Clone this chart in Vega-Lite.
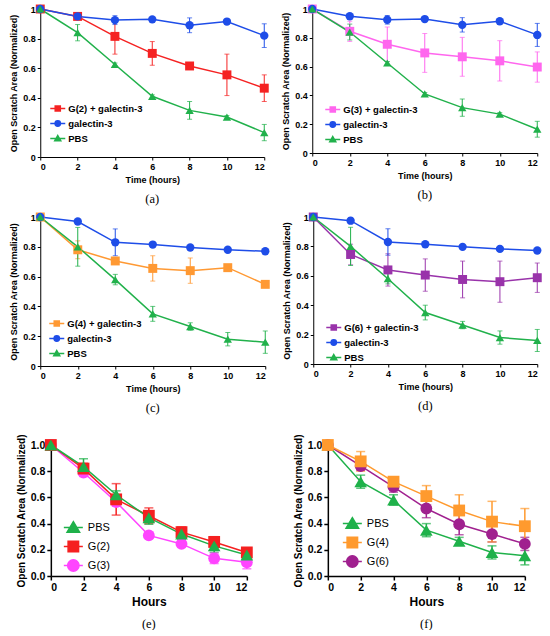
{
  "$schema": "https://vega.github.io/schema/vega-lite/v6.json",
  "padding": {"left": 9, "top": 4, "right": 0, "bottom": 0},
  "config": {
    "font": "Liberation Sans",
    "view": {"stroke": null},
    "axis": {
      "grid": false,
      "domainColor": "#000",
      "tickColor": "#000",
      "domainWidth": 1,
      "tickWidth": 1,
      "tickSize": 3,
      "labelPadding": 2,
      "labelFont": "Liberation Sans",
      "labelFontWeight": "bold",
      "labelFontSize": 9,
      "labelColor": "#000",
      "titleFont": "Liberation Sans",
      "titleFontWeight": "bold",
      "titleFontSize": 9,
      "titleColor": "#000"
    },
    "legend": {"labelFont": "Liberation Sans", "labelColor": "#000", "padding": 0, "rowPadding": 0, "title": null, "symbolStrokeWidth": 1.5, "symbolOpacity": 1},
    "title": {"font": "Liberation Serif", "fontSize": 12.5, "fontWeight": "normal", "color": "#000", "orient": "bottom", "offset": 9}
  },
  "resolve": {"scale": {"color": "independent", "fill": "independent", "stroke": "independent", "shape": "independent"}, "legend": {"fill": "independent", "stroke": "independent", "shape": "independent"}},
  "spacing": 18,
  "center": true,
  "vconcat": [
    {
      "spacing": 6,
      "resolve": {"scale": {"color": "independent", "fill": "independent", "stroke": "independent", "shape": "independent"}, "legend": {"fill": "independent", "stroke": "independent", "shape": "independent"}},
      "vconcat": [
        {
          "spacing": 12,
          "resolve": {"scale": {"color": "independent", "fill": "independent", "stroke": "independent", "shape": "independent"}, "legend": {"fill": "independent", "stroke": "independent", "shape": "independent"}},
          "hconcat": [
            {
              "width": 224,
              "height": 148,
              "title": "(a)",
              "data": {"values": [
                {"s": "G(2) + galectin-3", "t": 0, "v": 1, "e": 0},
                {"s": "G(2) + galectin-3", "t": 2, "v": 0.95, "e": 0},
                {"s": "G(2) + galectin-3", "t": 4, "v": 0.815, "e": 0.12},
                {"s": "G(2) + galectin-3", "t": 6, "v": 0.7, "e": 0.08},
                {"s": "G(2) + galectin-3", "t": 8, "v": 0.615, "e": 0.015},
                {"s": "G(2) + galectin-3", "t": 10, "v": 0.555, "e": 0.14},
                {"s": "G(2) + galectin-3", "t": 12, "v": 0.465, "e": 0.09},
                {"s": "galectin-3", "t": 0, "v": 1, "e": 0},
                {"s": "galectin-3", "t": 2, "v": 0.95, "e": 0.01},
                {"s": "galectin-3", "t": 4, "v": 0.925, "e": 0.03},
                {"s": "galectin-3", "t": 6, "v": 0.93, "e": 0.01},
                {"s": "galectin-3", "t": 8, "v": 0.89, "e": 0.05},
                {"s": "galectin-3", "t": 10, "v": 0.915, "e": 0.01},
                {"s": "galectin-3", "t": 12, "v": 0.82, "e": 0.08},
                {"s": "PBS", "t": 0, "v": 1, "e": 0},
                {"s": "PBS", "t": 2, "v": 0.84, "e": 0.055},
                {"s": "PBS", "t": 4, "v": 0.625, "e": 0.01},
                {"s": "PBS", "t": 6, "v": 0.41, "e": 0.01},
                {"s": "PBS", "t": 8, "v": 0.315, "e": 0.06},
                {"s": "PBS", "t": 10, "v": 0.27, "e": 0.01},
                {"s": "PBS", "t": 12, "v": 0.165, "e": 0.055}
              ]},
              "encoding": {
                "x": {"field": "t", "type": "quantitative", "scale": {"domain": [0, 12], "nice": false}, "axis": {"values": [0, 2, 4, 6, 8, 10, 12], "title": "Time (hours)"}},
                "y": {"field": "v", "type": "quantitative", "scale": {"domain": [0, 1], "nice": false}, "axis": {"values": [0, 0.2, 0.4, 0.6, 0.8, 1], "format": "~g", "title": "Open Scratch Area (Normalized)"}},
                "color": {"field": "s", "type": "nominal", "scale": {"domain": ["G(2) + galectin-3", "galectin-3", "PBS"], "range": ["#f52222", "#1e4de8", "#21b14b"]}, "legend": null}
              },
              "layer": [
                {"mark": {"type": "point", "opacity": 0, "size": 10},
                  "encoding": {
                    "fill": {"field": "s", "type": "nominal", "scale": {"domain": ["G(2) + galectin-3", "galectin-3", "PBS"], "range": ["#f52222", "#1e4de8", "#21b14b"]},
                      "legend": {"orient": "none", "legendX": 9, "legendY": 91, "symbolSize": 225, "labelFontSize": 9.5, "labelFontWeight": "bold", "labelOffset": 2}},
                    "stroke": {"field": "s", "type": "nominal", "scale": {"domain": ["G(2) + galectin-3", "galectin-3", "PBS"], "range": ["#f52222", "#1e4de8", "#21b14b"]},
                      "legend": {"orient": "none", "legendX": 9, "legendY": 91, "symbolSize": 225, "labelFontSize": 9.5, "labelFontWeight": "bold", "labelOffset": 2}},
                    "shape": {"field": "s", "type": "nominal", "scale": {"domain": ["G(2) + galectin-3", "galectin-3", "PBS"], "range": ["M-1,0H1M-0.34,-0.34H0.34V0.34H-0.34Z", "M-1,0H1M-0.36,0A0.36,0.36,0,1,0,0.36,0A0.36,0.36,0,1,0,-0.36,0Z", "M-1,0H1M0,-0.4L0.4,0.3H-0.4Z"]},
                      "legend": {"orient": "none", "legendX": 9, "legendY": 91, "symbolSize": 225, "labelFontSize": 9.5, "labelFontWeight": "bold", "labelOffset": 2}}
                  }},
                {"mark": {"type": "errorbar", "ticks": {"size": 5}, "thickness": 1}, "encoding": {"yError": {"field": "e"}}},
                {"mark": {"type": "line", "strokeWidth": 1.5}},
                {"transform": [{"filter": "datum.s === 'G(2) + galectin-3'"}], "mark": {"type": "point", "shape": "square", "filled": true, "opacity": 1, "size": 80}},
                {"transform": [{"filter": "datum.s === 'galectin-3'"}], "mark": {"type": "point", "shape": "circle", "filled": true, "opacity": 1, "size": 70}},
                {"transform": [{"filter": "datum.s === 'PBS'"}], "mark": {"type": "point", "shape": "triangle-up", "filled": true, "opacity": 1, "size": 70}}
              ]
            },
            {
              "width": 225,
              "height": 144,
              "title": "(b)",
              "data": {"values": [
                {"s": "G(3) + galectin-3", "t": 0, "v": 1, "e": 0},
                {"s": "G(3) + galectin-3", "t": 2, "v": 0.845, "e": 0.07},
                {"s": "G(3) + galectin-3", "t": 4, "v": 0.755, "e": 0.12},
                {"s": "G(3) + galectin-3", "t": 6, "v": 0.695, "e": 0.135},
                {"s": "G(3) + galectin-3", "t": 8, "v": 0.668, "e": 0.135},
                {"s": "G(3) + galectin-3", "t": 10, "v": 0.64, "e": 0.14},
                {"s": "G(3) + galectin-3", "t": 12, "v": 0.597, "e": 0.105},
                {"s": "galectin-3", "t": 0, "v": 1, "e": 0},
                {"s": "galectin-3", "t": 2, "v": 0.95, "e": 0.01},
                {"s": "galectin-3", "t": 4, "v": 0.925, "e": 0.03},
                {"s": "galectin-3", "t": 6, "v": 0.93, "e": 0.01},
                {"s": "galectin-3", "t": 8, "v": 0.89, "e": 0.05},
                {"s": "galectin-3", "t": 10, "v": 0.915, "e": 0.01},
                {"s": "galectin-3", "t": 12, "v": 0.82, "e": 0.08},
                {"s": "PBS", "t": 0, "v": 1, "e": 0},
                {"s": "PBS", "t": 2, "v": 0.84, "e": 0.055},
                {"s": "PBS", "t": 4, "v": 0.625, "e": 0.01},
                {"s": "PBS", "t": 6, "v": 0.41, "e": 0.01},
                {"s": "PBS", "t": 8, "v": 0.315, "e": 0.06},
                {"s": "PBS", "t": 10, "v": 0.27, "e": 0.01},
                {"s": "PBS", "t": 12, "v": 0.165, "e": 0.055}
              ]},
              "encoding": {
                "x": {"field": "t", "type": "quantitative", "scale": {"domain": [0, 12], "nice": false}, "axis": {"values": [0, 2, 4, 6, 8, 10, 12], "title": "Time (hours)"}},
                "y": {"field": "v", "type": "quantitative", "scale": {"domain": [0, 1], "nice": false}, "axis": {"values": [0, 0.2, 0.4, 0.6, 0.8, 1], "format": "~g", "title": "Open Scratch Area (Normalized)"}},
                "color": {"field": "s", "type": "nominal", "scale": {"domain": ["G(3) + galectin-3", "galectin-3", "PBS"], "range": ["#ff66ee", "#1e4de8", "#21b14b"]}, "legend": null}
              },
              "layer": [
                {"mark": {"type": "point", "opacity": 0, "size": 10},
                  "encoding": {
                    "fill": {"field": "s", "type": "nominal", "scale": {"domain": ["G(3) + galectin-3", "galectin-3", "PBS"], "range": ["#ff66ee", "#1e4de8", "#21b14b"]},
                      "legend": {"orient": "none", "legendX": 12, "legendY": 92, "symbolSize": 225, "labelFontSize": 9.5, "labelFontWeight": "bold", "labelOffset": 2}},
                    "stroke": {"field": "s", "type": "nominal", "scale": {"domain": ["G(3) + galectin-3", "galectin-3", "PBS"], "range": ["#ff66ee", "#1e4de8", "#21b14b"]},
                      "legend": {"orient": "none", "legendX": 12, "legendY": 92, "symbolSize": 225, "labelFontSize": 9.5, "labelFontWeight": "bold", "labelOffset": 2}},
                    "shape": {"field": "s", "type": "nominal", "scale": {"domain": ["G(3) + galectin-3", "galectin-3", "PBS"], "range": ["M-1,0H1M-0.34,-0.34H0.34V0.34H-0.34Z", "M-1,0H1M-0.36,0A0.36,0.36,0,1,0,0.36,0A0.36,0.36,0,1,0,-0.36,0Z", "M-1,0H1M0,-0.4L0.4,0.3H-0.4Z"]},
                      "legend": {"orient": "none", "legendX": 12, "legendY": 92, "symbolSize": 225, "labelFontSize": 9.5, "labelFontWeight": "bold", "labelOffset": 2}}
                  }},
                {"mark": {"type": "errorbar", "ticks": {"size": 5}, "thickness": 1}, "encoding": {"yError": {"field": "e"}}},
                {"mark": {"type": "line", "strokeWidth": 1.5}},
                {"transform": [{"filter": "datum.s === 'G(3) + galectin-3'"}], "mark": {"type": "point", "shape": "square", "filled": true, "opacity": 1, "size": 80}},
                {"transform": [{"filter": "datum.s === 'galectin-3'"}], "mark": {"type": "point", "shape": "circle", "filled": true, "opacity": 1, "size": 70}},
                {"transform": [{"filter": "datum.s === 'PBS'"}], "mark": {"type": "point", "shape": "triangle-up", "filled": true, "opacity": 1, "size": 70}}
              ]
            }
          ]
        },
        {
          "spacing": 12,
          "resolve": {"scale": {"color": "independent", "fill": "independent", "stroke": "independent", "shape": "independent"}, "legend": {"fill": "independent", "stroke": "independent", "shape": "independent"}},
          "hconcat": [
            {
              "width": 225,
              "height": 149,
              "title": "(c)",
              "data": {"values": [
                {"s": "G(4) + galectin-3", "t": 0, "v": 1, "e": 0},
                {"s": "G(4) + galectin-3", "t": 2, "v": 0.78, "e": 0.06},
                {"s": "G(4) + galectin-3", "t": 4, "v": 0.705, "e": 0.02},
                {"s": "G(4) + galectin-3", "t": 6, "v": 0.655, "e": 0.085},
                {"s": "G(4) + galectin-3", "t": 8, "v": 0.64, "e": 0.085},
                {"s": "G(4) + galectin-3", "t": 10, "v": 0.66, "e": 0.015},
                {"s": "G(4) + galectin-3", "t": 12, "v": 0.548, "e": 0.015},
                {"s": "galectin-3", "t": 0, "v": 1, "e": 0},
                {"s": "galectin-3", "t": 2, "v": 0.97, "e": 0.01},
                {"s": "galectin-3", "t": 4, "v": 0.83, "e": 0.09},
                {"s": "galectin-3", "t": 6, "v": 0.815, "e": 0.01},
                {"s": "galectin-3", "t": 8, "v": 0.795, "e": 0.01},
                {"s": "galectin-3", "t": 10, "v": 0.78, "e": 0.01},
                {"s": "galectin-3", "t": 12, "v": 0.77, "e": 0.01},
                {"s": "PBS", "t": 0, "v": 1, "e": 0},
                {"s": "PBS", "t": 2, "v": 0.8, "e": 0.13},
                {"s": "PBS", "t": 4, "v": 0.58, "e": 0.035},
                {"s": "PBS", "t": 6, "v": 0.35, "e": 0.05},
                {"s": "PBS", "t": 8, "v": 0.265, "e": 0.025},
                {"s": "PBS", "t": 10, "v": 0.18, "e": 0.045},
                {"s": "PBS", "t": 12, "v": 0.16, "e": 0.075}
              ]},
              "encoding": {
                "x": {"field": "t", "type": "quantitative", "scale": {"domain": [0, 12], "nice": false}, "axis": {"values": [0, 2, 4, 6, 8, 10, 12], "title": "Time (hours)"}},
                "y": {"field": "v", "type": "quantitative", "scale": {"domain": [0, 1], "nice": false}, "axis": {"values": [0, 0.2, 0.4, 0.6, 0.8, 1], "format": "~g", "title": "Open Scratch Area (Normalized)"}},
                "color": {"field": "s", "type": "nominal", "scale": {"domain": ["G(4) + galectin-3", "galectin-3", "PBS"], "range": ["#ff9933", "#1e4de8", "#21b14b"]}, "legend": null}
              },
              "layer": [
                {"mark": {"type": "point", "opacity": 0, "size": 10},
                  "encoding": {
                    "fill": {"field": "s", "type": "nominal", "scale": {"domain": ["G(4) + galectin-3", "galectin-3", "PBS"], "range": ["#ff9933", "#1e4de8", "#21b14b"]},
                      "legend": {"orient": "none", "legendX": 8, "legendY": 98, "symbolSize": 225, "labelFontSize": 9.5, "labelFontWeight": "bold", "labelOffset": 2}},
                    "stroke": {"field": "s", "type": "nominal", "scale": {"domain": ["G(4) + galectin-3", "galectin-3", "PBS"], "range": ["#ff9933", "#1e4de8", "#21b14b"]},
                      "legend": {"orient": "none", "legendX": 8, "legendY": 98, "symbolSize": 225, "labelFontSize": 9.5, "labelFontWeight": "bold", "labelOffset": 2}},
                    "shape": {"field": "s", "type": "nominal", "scale": {"domain": ["G(4) + galectin-3", "galectin-3", "PBS"], "range": ["M-1,0H1M-0.34,-0.34H0.34V0.34H-0.34Z", "M-1,0H1M-0.36,0A0.36,0.36,0,1,0,0.36,0A0.36,0.36,0,1,0,-0.36,0Z", "M-1,0H1M0,-0.4L0.4,0.3H-0.4Z"]},
                      "legend": {"orient": "none", "legendX": 8, "legendY": 98, "symbolSize": 225, "labelFontSize": 9.5, "labelFontWeight": "bold", "labelOffset": 2}}
                  }},
                {"mark": {"type": "errorbar", "ticks": {"size": 5}, "thickness": 1}, "encoding": {"yError": {"field": "e"}}},
                {"mark": {"type": "line", "strokeWidth": 1.5}},
                {"transform": [{"filter": "datum.s === 'G(4) + galectin-3'"}], "mark": {"type": "point", "shape": "square", "filled": true, "opacity": 1, "size": 80}},
                {"transform": [{"filter": "datum.s === 'galectin-3'"}], "mark": {"type": "point", "shape": "circle", "filled": true, "opacity": 1, "size": 70}},
                {"transform": [{"filter": "datum.s === 'PBS'"}], "mark": {"type": "point", "shape": "triangle-up", "filled": true, "opacity": 1, "size": 70}}
              ]
            },
            {
              "width": 224,
              "height": 147,
              "title": "(d)",
              "data": {"values": [
                {"s": "G(6) + galectin-3", "t": 0, "v": 1, "e": 0},
                {"s": "G(6) + galectin-3", "t": 2, "v": 0.745, "e": 0.07},
                {"s": "G(6) + galectin-3", "t": 4, "v": 0.64, "e": 0.11},
                {"s": "G(6) + galectin-3", "t": 6, "v": 0.605, "e": 0.11},
                {"s": "G(6) + galectin-3", "t": 8, "v": 0.575, "e": 0.125},
                {"s": "G(6) + galectin-3", "t": 10, "v": 0.56, "e": 0.14},
                {"s": "G(6) + galectin-3", "t": 12, "v": 0.587, "e": 0.1},
                {"s": "galectin-3", "t": 0, "v": 1, "e": 0},
                {"s": "galectin-3", "t": 2, "v": 0.975, "e": 0.02},
                {"s": "galectin-3", "t": 4, "v": 0.83, "e": 0.09},
                {"s": "galectin-3", "t": 6, "v": 0.815, "e": 0.01},
                {"s": "galectin-3", "t": 8, "v": 0.797, "e": 0.01},
                {"s": "galectin-3", "t": 10, "v": 0.783, "e": 0.01},
                {"s": "galectin-3", "t": 12, "v": 0.772, "e": 0.01},
                {"s": "PBS", "t": 0, "v": 1, "e": 0},
                {"s": "PBS", "t": 2, "v": 0.8, "e": 0.13},
                {"s": "PBS", "t": 4, "v": 0.58, "e": 0.035},
                {"s": "PBS", "t": 6, "v": 0.35, "e": 0.05},
                {"s": "PBS", "t": 8, "v": 0.265, "e": 0.025},
                {"s": "PBS", "t": 10, "v": 0.18, "e": 0.045},
                {"s": "PBS", "t": 12, "v": 0.16, "e": 0.075}
              ]},
              "encoding": {
                "x": {"field": "t", "type": "quantitative", "scale": {"domain": [0, 12], "nice": false}, "axis": {"values": [0, 2, 4, 6, 8, 10, 12], "title": "Time (hours)"}},
                "y": {"field": "v", "type": "quantitative", "scale": {"domain": [0, 1], "nice": false}, "axis": {"values": [0, 0.2, 0.4, 0.6, 0.8, 1], "format": "~g", "title": "Open Scratch Area (Normalized)"}},
                "color": {"field": "s", "type": "nominal", "scale": {"domain": ["G(6) + galectin-3", "galectin-3", "PBS"], "range": ["#9933aa", "#1e4de8", "#21b14b"]}, "legend": null}
              },
              "layer": [
                {"mark": {"type": "point", "opacity": 0, "size": 10},
                  "encoding": {
                    "fill": {"field": "s", "type": "nominal", "scale": {"domain": ["G(6) + galectin-3", "galectin-3", "PBS"], "range": ["#9933aa", "#1e4de8", "#21b14b"]},
                      "legend": {"orient": "none", "legendX": 12, "legendY": 102, "symbolSize": 225, "labelFontSize": 9.5, "labelFontWeight": "bold", "labelOffset": 2}},
                    "stroke": {"field": "s", "type": "nominal", "scale": {"domain": ["G(6) + galectin-3", "galectin-3", "PBS"], "range": ["#9933aa", "#1e4de8", "#21b14b"]},
                      "legend": {"orient": "none", "legendX": 12, "legendY": 102, "symbolSize": 225, "labelFontSize": 9.5, "labelFontWeight": "bold", "labelOffset": 2}},
                    "shape": {"field": "s", "type": "nominal", "scale": {"domain": ["G(6) + galectin-3", "galectin-3", "PBS"], "range": ["M-1,0H1M-0.34,-0.34H0.34V0.34H-0.34Z", "M-1,0H1M-0.36,0A0.36,0.36,0,1,0,0.36,0A0.36,0.36,0,1,0,-0.36,0Z", "M-1,0H1M0,-0.4L0.4,0.3H-0.4Z"]},
                      "legend": {"orient": "none", "legendX": 12, "legendY": 102, "symbolSize": 225, "labelFontSize": 9.5, "labelFontWeight": "bold", "labelOffset": 2}}
                  }},
                {"mark": {"type": "errorbar", "ticks": {"size": 5}, "thickness": 1}, "encoding": {"yError": {"field": "e"}}},
                {"mark": {"type": "line", "strokeWidth": 1.5}},
                {"transform": [{"filter": "datum.s === 'G(6) + galectin-3'"}], "mark": {"type": "point", "shape": "square", "filled": true, "opacity": 1, "size": 80}},
                {"transform": [{"filter": "datum.s === 'galectin-3'"}], "mark": {"type": "point", "shape": "circle", "filled": true, "opacity": 1, "size": 70}},
                {"transform": [{"filter": "datum.s === 'PBS'"}], "mark": {"type": "point", "shape": "triangle-up", "filled": true, "opacity": 1, "size": 70}}
              ]
            }
          ]
        }
      ]
    },
    {
      "spacing": 39,
      "resolve": {"scale": {"color": "independent", "fill": "independent", "stroke": "independent", "shape": "independent"}, "legend": {"fill": "independent", "stroke": "independent", "shape": "independent"}},
      "hconcat": [
        {
          "width": 196,
          "height": 131,
          "title": {"text": "(e)", "offset": 10},
          "data": {"values": [
            {"s": "G(3)", "t": 0, "v": 1, "e": 0.01},
            {"s": "G(3)", "t": 2, "v": 0.79, "e": 0.03},
            {"s": "G(3)", "t": 4, "v": 0.565, "e": 0.03},
            {"s": "G(3)", "t": 6, "v": 0.31, "e": 0.02},
            {"s": "G(3)", "t": 8, "v": 0.245, "e": 0.02},
            {"s": "G(3)", "t": 10, "v": 0.135, "e": 0.04},
            {"s": "G(3)", "t": 12, "v": 0.105, "e": 0.05},
            {"s": "G(2)", "t": 0, "v": 1, "e": 0.01},
            {"s": "G(2)", "t": 2, "v": 0.82, "e": 0.04},
            {"s": "G(2)", "t": 4, "v": 0.585, "e": 0.12},
            {"s": "G(2)", "t": 6, "v": 0.46, "e": 0.06},
            {"s": "G(2)", "t": 8, "v": 0.335, "e": 0.04},
            {"s": "G(2)", "t": 10, "v": 0.26, "e": 0.04},
            {"s": "G(2)", "t": 12, "v": 0.18, "e": 0.03},
            {"s": "PBS", "t": 0, "v": 1, "e": 0.01},
            {"s": "PBS", "t": 2, "v": 0.835, "e": 0.06},
            {"s": "PBS", "t": 4, "v": 0.62, "e": 0.03},
            {"s": "PBS", "t": 6, "v": 0.445, "e": 0.05},
            {"s": "PBS", "t": 8, "v": 0.32, "e": 0.04},
            {"s": "PBS", "t": 10, "v": 0.23, "e": 0.05},
            {"s": "PBS", "t": 12, "v": 0.16, "e": 0.03}
          ]},
          "encoding": {
            "x": {"field": "t", "type": "quantitative", "scale": {"domain": [0, 12], "nice": false},
              "axis": {"values": [0, 2, 4, 6, 8, 10, 12], "title": "Hours", "titleFontSize": 12, "labelFontSize": 10.5, "domainWidth": 1.5, "tickWidth": 1.5, "tickSize": 4, "labelPadding": 2}},
            "y": {"field": "v", "type": "quantitative", "scale": {"domain": [0, 1], "nice": false},
              "axis": {"values": [0, 0.2, 0.4, 0.6, 0.8, 1], "format": ".1f", "title": "Open Scratch Area (Normalized)", "titleFontSize": 10, "labelFontSize": 10.5, "domainWidth": 1.5, "tickWidth": 1.5, "tickSize": 4, "labelPadding": 2}},
            "color": {"field": "s", "type": "nominal", "scale": {"domain": ["PBS", "G(2)", "G(3)"], "range": ["#1fb14a", "#f52020", "#ff44ff"]}, "legend": null}
          },
          "layer": [
            {"mark": {"type": "point", "opacity": 0, "size": 10},
              "encoding": {
                "fill": {"field": "s", "type": "nominal", "scale": {"domain": ["PBS", "G(2)", "G(3)"], "range": ["#1fb14a", "#f52020", "#ff44ff"]},
                  "legend": {"orient": "none", "legendX": 12, "legendY": 72, "symbolSize": 361, "labelFontSize": 11, "labelFontWeight": "normal", "labelOffset": 4}},
                "stroke": {"field": "s", "type": "nominal", "scale": {"domain": ["PBS", "G(2)", "G(3)"], "range": ["#1fb14a", "#f52020", "#ff44ff"]},
                  "legend": {"orient": "none", "legendX": 12, "legendY": 72, "symbolSize": 361, "labelFontSize": 11, "labelFontWeight": "normal", "labelOffset": 4}},
                "shape": {"field": "s", "type": "nominal", "scale": {"domain": ["PBS", "G(2)", "G(3)"], "range": ["M-1,0H1M0,-0.62L0.66,0.5H-0.66Z", "M-1,0H1M-0.55,-0.55H0.55V0.55H-0.55Z", "M-1,0H1M-0.6,0A0.6,0.6,0,1,0,0.6,0A0.6,0.6,0,1,0,-0.6,0Z"]},
                  "legend": {"orient": "none", "legendX": 12, "legendY": 72, "symbolSize": 361, "labelFontSize": 11, "labelFontWeight": "normal", "labelOffset": 4}}
              }},
            {"mark": {"type": "errorbar", "ticks": {"size": 9}, "thickness": 1.5}, "encoding": {"yError": {"field": "e"}}},
            {"mark": {"type": "line", "strokeWidth": 1.5}},
            {"transform": [{"filter": "datum.s === 'G(3)'"}], "mark": {"type": "point", "shape": "circle", "filled": true, "opacity": 1, "size": 140}},
            {"transform": [{"filter": "datum.s === 'G(2)'"}], "mark": {"type": "point", "shape": "square", "filled": true, "opacity": 1, "size": 140}},
            {"transform": [{"filter": "datum.s === 'PBS'"}], "mark": {"type": "point", "shape": "triangle-up", "filled": true, "opacity": 1, "size": 160}}
          ]
        },
        {
          "width": 197,
          "height": 131,
          "title": {"text": "(f)", "offset": 10},
          "data": {"values": [
            {"s": "PBS", "t": 0, "v": 1, "e": 0},
            {"s": "PBS", "t": 2, "v": 0.72, "e": 0.05},
            {"s": "PBS", "t": 4, "v": 0.58, "e": 0.04},
            {"s": "PBS", "t": 6, "v": 0.35, "e": 0.05},
            {"s": "PBS", "t": 8, "v": 0.265, "e": 0.03},
            {"s": "PBS", "t": 10, "v": 0.18, "e": 0.05},
            {"s": "PBS", "t": 12, "v": 0.155, "e": 0.07},
            {"s": "G(6)", "t": 0, "v": 1, "e": 0.01},
            {"s": "G(6)", "t": 2, "v": 0.84, "e": 0.03},
            {"s": "G(6)", "t": 4, "v": 0.68, "e": 0.04},
            {"s": "G(6)", "t": 6, "v": 0.515, "e": 0.07},
            {"s": "G(6)", "t": 8, "v": 0.395, "e": 0.08},
            {"s": "G(6)", "t": 10, "v": 0.32, "e": 0.06},
            {"s": "G(6)", "t": 12, "v": 0.245, "e": 0.05},
            {"s": "G(4)", "t": 0, "v": 1, "e": 0.01},
            {"s": "G(4)", "t": 2, "v": 0.875, "e": 0.075},
            {"s": "G(4)", "t": 4, "v": 0.72, "e": 0.03},
            {"s": "G(4)", "t": 6, "v": 0.61, "e": 0.08},
            {"s": "G(4)", "t": 8, "v": 0.5, "e": 0.12},
            {"s": "G(4)", "t": 10, "v": 0.415, "e": 0.155},
            {"s": "G(4)", "t": 12, "v": 0.38, "e": 0.135}
          ]},
          "encoding": {
            "x": {"field": "t", "type": "quantitative", "scale": {"domain": [0, 12], "nice": false},
              "axis": {"values": [0, 2, 4, 6, 8, 10, 12], "title": "Hours", "titleFontSize": 12, "labelFontSize": 10.5, "domainWidth": 1.5, "tickWidth": 1.5, "tickSize": 4, "labelPadding": 2}},
            "y": {"field": "v", "type": "quantitative", "scale": {"domain": [0, 1], "nice": false},
              "axis": {"values": [0, 0.2, 0.4, 0.6, 0.8, 1], "format": ".1f", "title": "Open Scratch Area (Normalized)", "titleFontSize": 10, "labelFontSize": 10.5, "domainWidth": 1.5, "tickWidth": 1.5, "tickSize": 4, "labelPadding": 2}},
            "color": {"field": "s", "type": "nominal", "scale": {"domain": ["PBS", "G(4)", "G(6)"], "range": ["#1fb14a", "#ff9a2e", "#a0208f"]}, "legend": null}
          },
          "layer": [
            {"mark": {"type": "point", "opacity": 0, "size": 10},
              "encoding": {
                "fill": {"field": "s", "type": "nominal", "scale": {"domain": ["PBS", "G(4)", "G(6)"], "range": ["#1fb14a", "#ff9a2e", "#a0208f"]},
                  "legend": {"orient": "none", "legendX": 14, "legendY": 68, "symbolSize": 361, "labelFontSize": 11, "labelFontWeight": "normal", "labelOffset": 4}},
                "stroke": {"field": "s", "type": "nominal", "scale": {"domain": ["PBS", "G(4)", "G(6)"], "range": ["#1fb14a", "#ff9a2e", "#a0208f"]},
                  "legend": {"orient": "none", "legendX": 14, "legendY": 68, "symbolSize": 361, "labelFontSize": 11, "labelFontWeight": "normal", "labelOffset": 4}},
                "shape": {"field": "s", "type": "nominal", "scale": {"domain": ["PBS", "G(4)", "G(6)"], "range": ["M-1,0H1M0,-0.62L0.66,0.5H-0.66Z", "M-1,0H1M-0.55,-0.55H0.55V0.55H-0.55Z", "M-1,0H1M-0.6,0A0.6,0.6,0,1,0,0.6,0A0.6,0.6,0,1,0,-0.6,0Z"]},
                  "legend": {"orient": "none", "legendX": 14, "legendY": 68, "symbolSize": 361, "labelFontSize": 11, "labelFontWeight": "normal", "labelOffset": 4}}
              }},
            {"mark": {"type": "errorbar", "ticks": {"size": 9}, "thickness": 1.5}, "encoding": {"yError": {"field": "e"}}},
            {"mark": {"type": "line", "strokeWidth": 1.5}},
            {"transform": [{"filter": "datum.s === 'PBS'"}], "mark": {"type": "point", "shape": "triangle-up", "filled": true, "opacity": 1, "size": 160}},
            {"transform": [{"filter": "datum.s === 'G(6)'"}], "mark": {"type": "point", "shape": "circle", "filled": true, "opacity": 1, "size": 140}},
            {"transform": [{"filter": "datum.s === 'G(4)'"}], "mark": {"type": "point", "shape": "square", "filled": true, "opacity": 1, "size": 140}}
          ]
        }
      ]
    }
  ]
}
